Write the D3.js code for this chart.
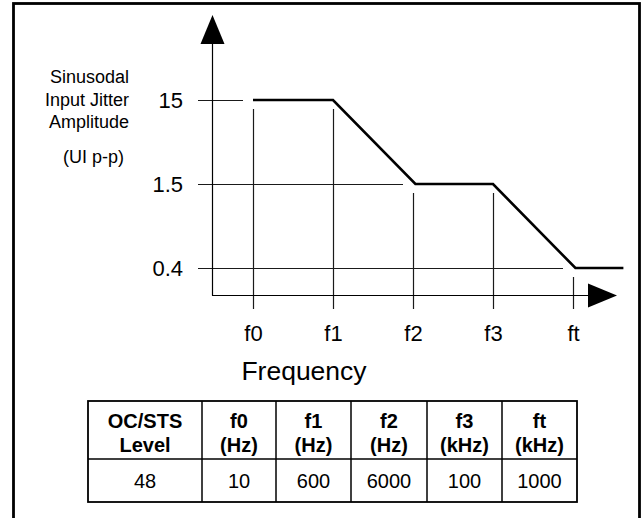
<!DOCTYPE html>
<html>
<head>
<meta charset="utf-8">
<script src="https://cdn.jsdelivr.net/npm/d3@7"></script>
<style>
  html, body { margin: 0; padding: 0; background: #fff; }
  svg { display: block; font-family: "Liberation Sans", Arial, sans-serif; }
</style>
</head>
<body>
<div id="chart"></div>
<script>
//////// DATA ////////
var freqLabels = ["f0", "f1", "f2", "f3", "ft"];
var ampLabels = ["15", "1.5", "0.4"];
// amplitude level reached at each corner frequency
var freqAmp = ["15", "15", "1.5", "1.5", "0.4"];
// mask curve: position along the frequency axis (in steps of corner freqs) and level
var maskStep = [0, 1, 2.03, 3, 4.03, 4.63];
var maskAmp = ["15", "15", "1.5", "1.5", "0.4", "0.4"];

var yTitle = ["Sinusodal", "Input Jitter", "Amplitude"];
var yUnit = "(UI p-p)";
var xTitle = "Frequency";

var tableHead1 = ["OC/STS", "f0", "f1", "f2", "f3", "ft"];
var tableHead2 = ["Level", "(Hz)", "(Hz)", "(Hz)", "(kHz)", "(kHz)"];
var tableRow = ["48", "10", "600", "6000", "100", "1000"];

//////// CANVAS ////////
var W = 643, H = 518;
var svg = d3.select("#chart").append("svg")
    .attr("width", W)
    .attr("height", H);

// outer frame (bottom edge falls off the picture)
svg.append("rect")
    .attr("x", 13.5).attr("y", 3.5)
    .attr("width", 626).attr("height", 530)
    .attr("fill", "none")
    .attr("stroke", "#000")
    .attr("stroke-width", 2.8);

//////// SCALES ////////
var xScale = d3.scaleLinear()
    .domain([0, freqLabels.length - 1])
    .range([253, 573]);

var yScale = d3.scalePoint()
    .domain(ampLabels)
    .range([100, 268]);

var axisX = 212, axisY = 295;
var thin = "#1a1a1a";

//////// GRID LINES ////////
// horizontal level lines, stop just short of the first corner at that level
svg.append("g").selectAll("line")
    .data(ampLabels)
    .enter().append("line")
      .attr("x1", 198)
      .attr("x2", function(d) { return xScale(freqAmp.indexOf(d)) - 10; })
      .attr("y1", function(d) { return yScale(d) + 0.5; })
      .attr("y2", function(d) { return yScale(d) + 0.5; })
      .attr("stroke", thin)
      .attr("stroke-width", 1.2);

// vertical corner lines, start just under the mask and cross the axis
svg.append("g").selectAll("line")
    .data(freqLabels)
    .enter().append("line")
      .attr("x1", function(d, i) { return xScale(i) + 0.5; })
      .attr("x2", function(d, i) { return xScale(i) + 0.5; })
      .attr("y1", function(d, i) { return yScale(freqAmp[i]) + 9; })
      .attr("y2", axisY + 14)
      .attr("stroke", thin)
      .attr("stroke-width", 1.2);

//////// AXES ////////
svg.append("line")
    .attr("x1", axisX + 0.5).attr("x2", axisX + 0.5)
    .attr("y1", 40).attr("y2", axisY + 0.5)
    .attr("stroke", "#000").attr("stroke-width", 1.2);

svg.append("line")
    .attr("x1", axisX).attr("x2", 592)
    .attr("y1", axisY + 0.5).attr("y2", axisY + 0.5)
    .attr("stroke", "#000").attr("stroke-width", 1.2);

// arrow heads
svg.append("path")
    .attr("d", "M" + (axisX + 0.5) + ",15 L" + (axisX - 11.5) + ",44 L" + (axisX + 12.5) + ",44 Z")
    .attr("fill", "#000");

svg.append("path")
    .attr("d", "M617," + (axisY + 0.5) + " L588," + (axisY - 11.5) + " L588," + (axisY + 12.5) + " Z")
    .attr("fill", "#000");

//////// MASK CURVE ////////
var line = d3.line()
    .x(function(d) { return xScale(d); })
    .y(function(d, i) { return yScale(maskAmp[i]); });

svg.append("path")
    .datum(maskStep)
    .attr("d", line)
    .attr("fill", "none")
    .attr("stroke", "#000")
    .attr("stroke-width", 2.6)
    .attr("stroke-linejoin", "miter");

//////// LABELS ////////
svg.append("g").selectAll("text")
    .data(ampLabels)
    .enter().append("text")
      .attr("x", 183)
      .attr("y", function(d) { return yScale(d); })
      .attr("dy", "0.35em")
      .attr("text-anchor", "end")
      .attr("font-size", 22)
      .text(function(d) { return d; });

svg.append("g").selectAll("text")
    .data(freqLabels)
    .enter().append("text")
      .attr("x", function(d, i) { return xScale(i) + 0.5; })
      .attr("y", 333)
      .attr("dy", "0.35em")
      .attr("text-anchor", "middle")
      .attr("font-size", 22)
      .text(function(d) { return d; });

svg.append("text")
    .attr("x", 304)
    .attr("y", 371)
    .attr("dy", "0.35em")
    .attr("text-anchor", "middle")
    .attr("font-size", 26.5)
    .text(xTitle);

svg.append("g").selectAll("text")
    .data(yTitle)
    .enter().append("text")
      .attr("x", 129)
      .attr("y", function(d, i) { return 77 + i * 22.5; })
      .attr("dy", "0.35em")
      .attr("text-anchor", "end")
      .attr("font-size", 18)
      .text(function(d) { return d; });

svg.append("text")
    .attr("x", 124)
    .attr("y", 157)
    .attr("dy", "0.35em")
    .attr("text-anchor", "end")
    .attr("font-size", 18)
    .text(yUnit);

//////// TABLE ////////
var colW = [114, 74, 75, 76, 75, 75];
var colX = [88];
colW.forEach(function(w) { colX.push(colX[colX.length - 1] + w); });
var tTop = 401, tMid = 459, tBot = 502;

var table = svg.append("g");

// cell grid
table.append("rect")
    .attr("x", colX[0]).attr("y", tTop)
    .attr("width", colX[colX.length - 1] - colX[0])
    .attr("height", tBot - tTop)
    .attr("fill", "none")
    .attr("stroke", "#000")
    .attr("stroke-width", 1.8);

table.append("line")
    .attr("x1", colX[0]).attr("x2", colX[colX.length - 1])
    .attr("y1", tMid).attr("y2", tMid)
    .attr("stroke", "#000").attr("stroke-width", 1.5);

table.selectAll("line.col")
    .data(colX.slice(1, -1))
    .enter().append("line")
      .attr("class", "col")
      .attr("x1", function(d) { return d; })
      .attr("x2", function(d) { return d; })
      .attr("y1", tTop).attr("y2", tBot)
      .attr("stroke", "#000").attr("stroke-width", 1.5);

function colMid(i) { return (colX[i] + colX[i + 1]) / 2; }

table.selectAll("text.h1")
    .data(tableHead1)
    .enter().append("text")
      .attr("class", "h1")
      .attr("x", function(d, i) { return colMid(i); })
      .attr("y", 421)
      .attr("dy", "0.35em")
      .attr("text-anchor", "middle")
      .attr("font-size", 20)
      .attr("font-weight", "bold")
      .text(function(d) { return d; });

table.selectAll("text.h2")
    .data(tableHead2)
    .enter().append("text")
      .attr("class", "h2")
      .attr("x", function(d, i) { return colMid(i); })
      .attr("y", 445)
      .attr("dy", "0.35em")
      .attr("text-anchor", "middle")
      .attr("font-size", 20)
      .attr("font-weight", "bold")
      .text(function(d) { return d; });

table.selectAll("text.row")
    .data(tableRow)
    .enter().append("text")
      .attr("class", "row")
      .attr("x", function(d, i) { return colMid(i); })
      .attr("y", 481)
      .attr("dy", "0.35em")
      .attr("text-anchor", "middle")
      .attr("font-size", 20)
      .text(function(d) { return d; });
</script>
</body>
</html>
